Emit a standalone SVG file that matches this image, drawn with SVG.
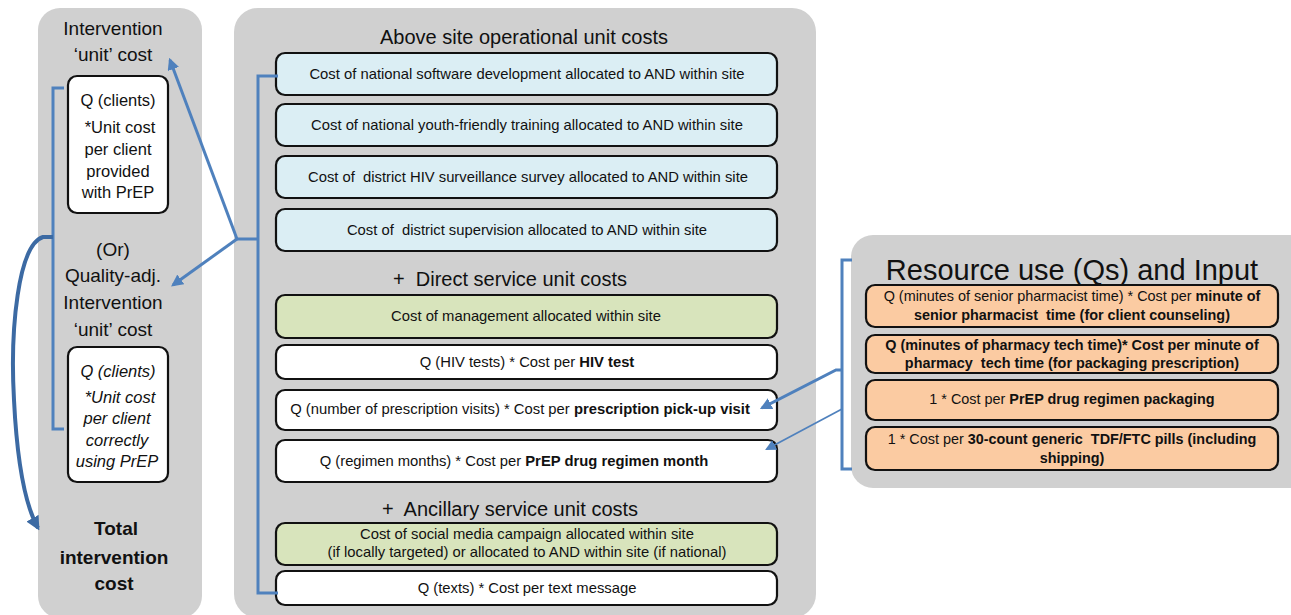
<svg xmlns="http://www.w3.org/2000/svg" width="1291" height="615" viewBox="0 0 1291 615">
<defs>
<style>
text{font-family:"Liberation Sans",Arial,sans-serif;fill:#111;text-anchor:middle}
.panel{fill:#d0d0d0}
.box{stroke:#111;stroke-width:2.2}
.blue{fill:#dbeef4}
.green{fill:#d8e4bc}
.white{fill:#fff}
.orange{fill:#fbcba2}
.t14{font-size:14.8px}
.t13{font-size:14.4px}
.lbl{font-size:19px}
.hd{font-size:20px}
.b{font-weight:bold}
.conn{fill:none;stroke:#4f81bd;stroke-width:3}
.thin{fill:none;stroke:#4f81bd;stroke-width:1.8}
</style>
<marker id="ah" viewBox="0 0 10 10" refX="8" refY="5" markerWidth="4" markerHeight="4" orient="auto"><path d="M0,0 L10,5 L0,10 z" fill="#4f81bd"/></marker>
<marker id="ah2" viewBox="0 0 10 10" refX="8" refY="5" markerWidth="6" markerHeight="6" orient="auto"><path d="M0,0 L10,5 L0,10 z" fill="#4f81bd"/></marker>
<marker id="ah3" viewBox="0 0 10 10" refX="8" refY="5" markerWidth="3.5" markerHeight="3.5" orient="auto"><path d="M0,0 L10,5 L0,10 z" fill="#3c6aa3"/></marker>
</defs>

<g id="left-panel">
<rect class="panel" x="38" y="8" width="164" height="610" rx="22"/>
<text class="lbl" x="113" y="35">Intervention</text>
<text class="lbl" x="113" y="61">‘unit’ cost</text>
<text class="lbl" x="113" y="256">(Or)</text>
<text class="lbl" x="113" y="282">Quality-adj.</text>
<text class="lbl" x="113" y="309">Intervention</text>
<text class="lbl" x="113" y="336">‘unit’ cost</text>
<text class="lbl b" x="116" y="535">Total</text>
<text class="lbl b" x="114" y="564">intervention</text>
<text class="lbl b" x="114" y="590">cost</text>
</g>
<g id="node-clients-provided">
<rect class="box white" x="68" y="76" width="100" height="137" rx="9"/>
<text x="118" y="106" style="font-size:16.5px">Q (clients)</text>
<text x="120" y="133" style="font-size:16.5px">*Unit cost</text>
<text x="118" y="155" style="font-size:16.5px">per client</text>
<text x="118" y="177" style="font-size:16.5px">provided</text>
<text x="118" y="198" style="font-size:16.5px">with PrEP</text>
</g>
<g id="node-clients-correct">
<rect class="box white" x="68" y="347" width="100" height="135" rx="9"/>
<text x="118" y="377" style="font-size:16.5px;font-style:italic">Q (clients)</text>
<text x="120" y="403" style="font-size:16.5px;font-style:italic">*Unit cost</text>
<text x="117" y="424" style="font-size:16.5px;font-style:italic">per client</text>
<text x="117" y="446" style="font-size:16.5px;font-style:italic">correctly</text>
<text x="117" y="467" style="font-size:16.5px;font-style:italic">using PrEP</text>
</g>

<g id="middle-panel">
<rect class="panel" x="234" y="8" width="582" height="610" rx="24"/>
<text class="hd" x="524" y="44">Above site operational unit costs</text>
<text class="hd" x="510" y="286" xml:space="preserve">+  Direct service unit costs</text>
<text class="hd" x="510" y="516" xml:space="preserve">+  Ancillary service unit costs</text>
</g>
<g id="node-software"><rect class="box blue" x="276" y="53" width="501" height="42" rx="9"/><text class="t14" x="527" y="79">Cost of national software development allocated to AND within site</text></g>
<g id="node-training"><rect class="box blue" x="276" y="104" width="501" height="42" rx="9"/><text class="t14" x="527" y="130">Cost of national youth-friendly training allocated to AND within site</text></g>
<g id="node-survey"><rect class="box blue" x="276" y="156" width="501" height="42" rx="9"/><text class="t14" x="528" y="182" xml:space="preserve">Cost of  district HIV surveillance survey allocated to AND within site</text></g>
<g id="node-supervision"><rect class="box blue" x="276" y="209" width="501" height="42" rx="9"/><text class="t14" x="527" y="235" xml:space="preserve">Cost of  district supervision allocated to AND within site</text></g>
<g id="node-management"><rect class="box green" x="276" y="295" width="501" height="43" rx="9"/><text class="t14" x="526" y="321">Cost of management allocated within site</text></g>
<g id="node-hiv-test"><rect class="box white" x="276" y="345" width="501" height="34" rx="9"/><text class="t14" x="527" y="367">Q (HIV tests) * Cost per <tspan class="b">HIV test</tspan></text></g>
<g id="node-prescription"><rect class="box white" x="276" y="390" width="501" height="40" rx="9"/><text class="t14" x="520" y="414">Q (number of prescription visits) * Cost per <tspan class="b">prescription pick-up visit</tspan></text></g>
<g id="node-regimen"><rect class="box white" x="276" y="440" width="501" height="42" rx="9"/><text class="t14" x="514" y="466">Q (regimen months) * Cost per <tspan class="b">PrEP drug regimen month</tspan></text></g>
<g id="node-social"><rect class="box green" x="276" y="523" width="501" height="42" rx="9"/><text class="t14" x="527" y="539">Cost of social media campaign allocated within site</text><text class="t14" x="527" y="557">(if locally targeted) or allocated to AND within site (if national)</text></g>
<g id="node-texts"><rect class="box white" x="276" y="571" width="501" height="34" rx="9"/><text class="t14" x="527" y="593">Q (texts) * Cost per text message</text></g>

<g id="right-panel">
<rect class="panel" x="851" y="235" width="460" height="253" rx="22"/>
<text x="1072" y="280" style="font-size:29px">Resource use (Qs) and Input</text>
</g>
<g id="node-senior"><rect class="box orange" x="866" y="285" width="412" height="42" rx="9"/><text class="t13" x="1072" y="301">Q (minutes of senior pharmacist time) * Cost per <tspan class="b">minute of</tspan></text><text class="t13 b" x="1072" y="320" xml:space="preserve">senior pharmacist  time (for client counseling)</text></g>
<g id="node-tech"><rect class="box orange" x="866" y="335" width="412" height="38" rx="9"/><text class="t13 b" x="1072" y="350">Q (minutes of pharmacy tech time)* Cost per minute of</text><text class="t13 b" x="1072" y="368" xml:space="preserve">pharmacy  tech time (for packaging prescription)</text></g>
<g id="node-packaging"><rect class="box orange" x="866" y="380" width="412" height="40" rx="9"/><text class="t13" x="1072" y="404">1 * Cost per <tspan class="b">PrEP drug regimen packaging</tspan></text></g>
<g id="node-pills"><rect class="box orange" x="866" y="427" width="412" height="43" rx="9"/><text class="t13" x="1072" y="444" xml:space="preserve">1 * Cost per <tspan class="b">30-count generic  TDF/FTC pills (including</tspan></text><text class="t13 b" x="1072" y="463">shipping)</text></g>

<g id="connectors">
<path class="conn" d="M64,88 H53 V429 H64"/>
<path d="M53,237 H43 C18,245 10,330 14,400 C17,460 25,505 38,528" fill="none" stroke="#3c6aa3" stroke-width="4" marker-end="url(#ah3)"/>
<path class="conn" d="M278,76 H258 V593 H278"/>
<path class="conn" d="M258,239 H237"/>
<path class="conn" d="M237,239 L170,60" marker-end="url(#ah)"/>
<path class="conn" d="M237,239 L173,285" marker-end="url(#ah)"/>
<path class="conn" d="M852,260 H842 V469 H852"/>
<path class="conn" d="M842,370 H836 L762,408" marker-end="url(#ah)"/>
<path class="thin" d="M842,409 L767,449" marker-end="url(#ah2)"/>
</g>
</svg>
